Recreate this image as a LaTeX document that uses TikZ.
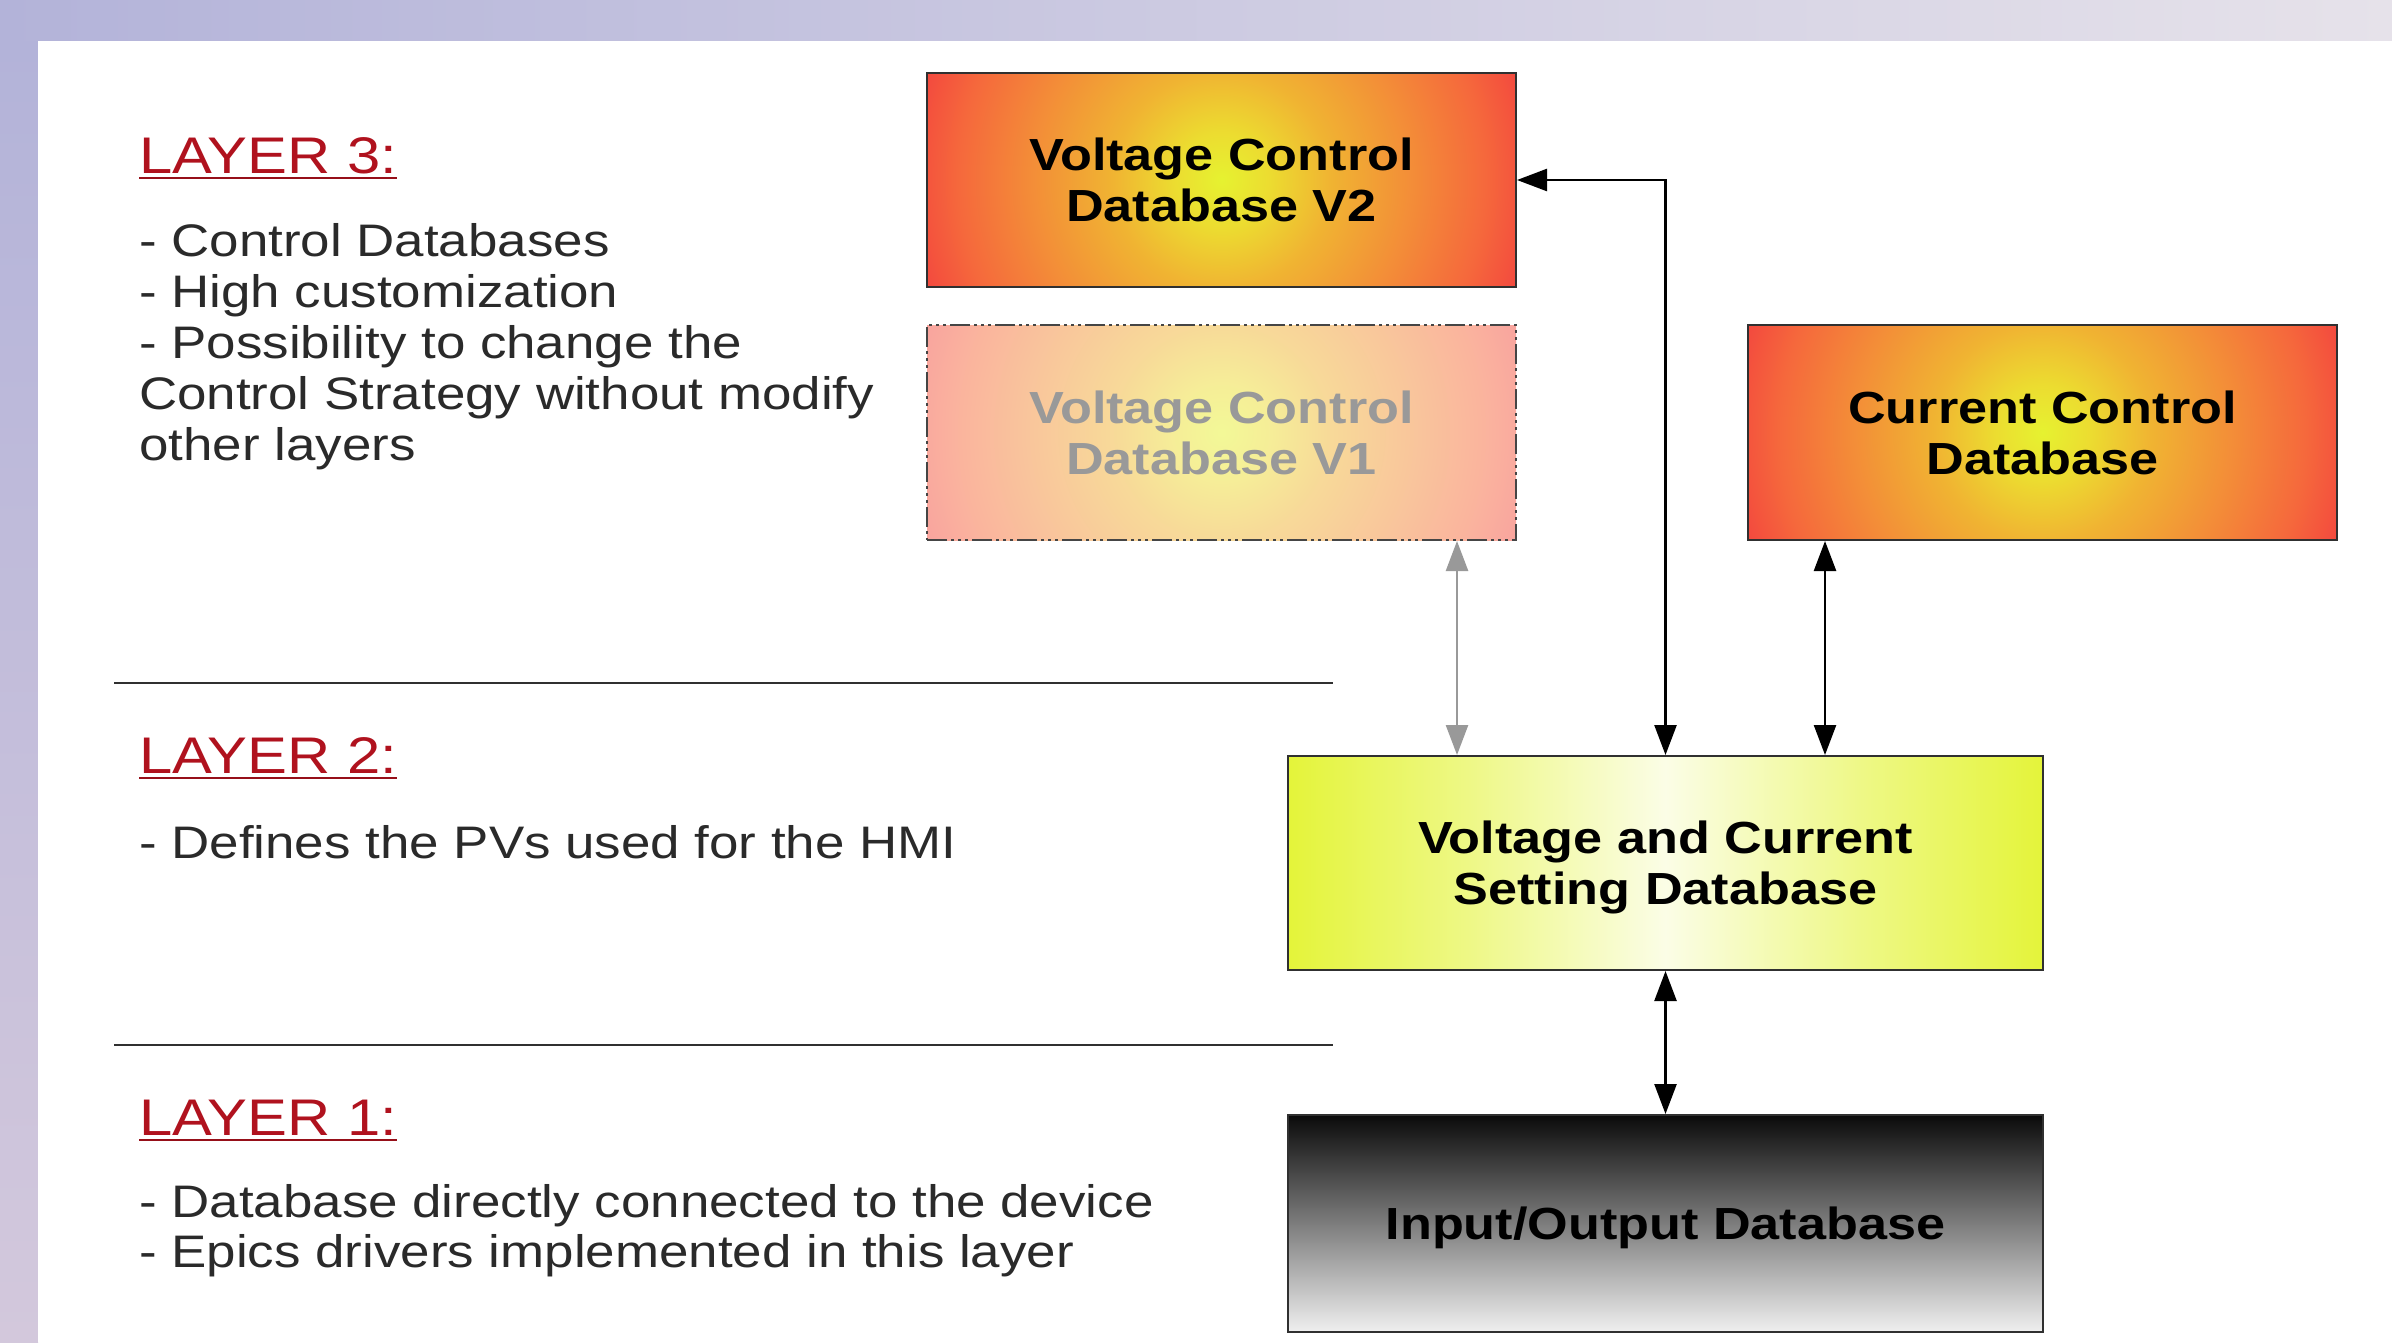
\documentclass[tikz,border=0pt]{standalone}
\usepackage{fontspec}
\setmainfont{Liberation Sans}[FakeStretch=1.16]
\usetikzlibrary{arrows.meta}
\definecolor{layred}{HTML}{B0121E}
\definecolor{bodytxt}{HTML}{2A2A2A}
\definecolor{boxline}{HTML}{303030}
\definecolor{bgA}{HTML}{B3B3D9}
\definecolor{bgB}{HTML}{E6E2EA}
\definecolor{bgC}{HTML}{D3C8DC}
\definecolor{cc0}{HTML}{E6F230}
\definecolor{cc1}{HTML}{ECDC30}
\definecolor{cc2}{HTML}{F0B432}
\definecolor{cc3}{HTML}{F38C38}
\definecolor{cc4}{HTML}{F5683C}
\definecolor{cc5}{HTML}{F34A3E}
\colorlet{fc0}{cc0!50!white}
\colorlet{fc1}{cc1!50!white}
\colorlet{fc2}{cc2!50!white}
\colorlet{fc3}{cc3!50!white}
\colorlet{fc4}{cc4!50!white}
\colorlet{fc5}{cc5!50!white}
\definecolor{sy0}{HTML}{E4F43A}
\definecolor{sy1}{HTML}{EEF886}
\definecolor{sy2}{HTML}{FBFDE6}
\pgfdeclareradialshading{ctrlshade}{\pgfpoint{0bp}{0bp}}{color(0bp)=(cc0); color(3bp)=(cc1); color(6.75bp)=(cc2); color(12bp)=(cc3); color(16.5bp)=(cc4); color(19.5bp)=(cc5); color(50bp)=(cc5)}
\pgfdeclareradialshading{fadeshade}{\pgfpoint{0bp}{0bp}}{color(0bp)=(fc0); color(3bp)=(fc1); color(6.75bp)=(fc2); color(12bp)=(fc3); color(16.5bp)=(fc4); color(19.5bp)=(fc5); color(50bp)=(fc5)}
\pgfdeclarehorizontalshading{setshade}{100bp}{color(0bp)=(sy0); color(25bp)=(sy0); color(37bp)=(sy1); color(50bp)=(sy2); color(63bp)=(sy1); color(75bp)=(sy0); color(100bp)=(sy0)}
\tikzset{
  box/.style={draw=boxline, line width=2pt, inner sep=0pt, minimum width=589pt, minimum height=214pt, align=center, text depth=0pt, font=\bfseries\fontsize{45}{51}\selectfont},
  ctrlbox/.style={box, path picture={\shade[shading=ctrlshade] (path picture bounding box.center) circle[radius=400pt];}},
  fadebox/.style={box, draw=boxline!90, dash pattern=on 20pt off 4pt on 3pt off 4pt on 3pt off 4pt on 3pt off 4pt, text=black!40, path picture={\shade[shading=fadeshade] (path picture bounding box.center) circle[radius=400pt];}},
  setbox/.style={box, minimum width=755pt, shading=setshade},
  iobox/.style={box, minimum width=755pt, minimum height=217pt, top color=black!96, bottom color=black!6},
  layer/.style={anchor=base west, inner sep=0pt, text=layred, font=\fontsize{51.5}{58}\selectfont},
  body/.style={anchor=base west, inner sep=0pt, text=bodytxt, font=\fontsize{45.6}{51}\selectfont},
  uline/.style={draw=layred!85!black, line width=2.6pt},
  sep/.style={draw=boxline, line width=2pt},
  conn/.style={{Triangle[length=30pt,width=22pt]}-{Triangle[length=30pt,width=22pt]}, line width=2.5pt, draw=black},
  gconn/.style={conn, draw=black!40, fill=black!40}
}
\begin{document}
\begin{tikzpicture}[x=1pt,y=-1pt]
\useasboundingbox (0,0) rectangle (2392,1342);
% background
\shade[left color=bgA, right color=bgB] (0,0) rectangle (2392,41);
\shade[top color=bgA, bottom color=bgC] (0,41) rectangle (38,1342);
\fill[white] (38,41) rectangle (2392,1342);

% boxes
\node[ctrlbox] (v2) at (1221.5,180) {Voltage Control\\Database V2};
\node[fadebox, minimum height=215pt] (v1) at (1221.5,432.5) {Voltage Control\\Database V1};
\node[ctrlbox, minimum height=215pt] (cur) at (2042.5,432.5) {Current Control\\Database};
\node[setbox] (set) at (1665.5,863) {Voltage and Current\\Setting Database};
\node[iobox] (io) at (1665.5,1223.5) {Input/Output Database};

% connectors
\coordinate (gx) at (1457,0);
\coordinate (rx) at (1825,0);
\draw[gconn] (v1.south -| gx) -- (set.north -| gx);
\draw[conn] (v2.east) -| (set.north);
\draw[conn] (cur.south -| rx) -- (set.north -| rx);
\draw[conn] (set.south) -- (io.north);

% separators
\draw[sep] (114,683.4) -- (1333,683.4);
\draw[sep] (114,1045) -- (1333,1045);

% layer 3
\node[layer] (l3) at (139,173) {LAYER 3:};
\draw[uline] ([yshift=-5pt]l3.base west) -- ([yshift=-5pt]l3.base east);
\node[body] (t3a) at (139,256) {- Control Databases};
\node[body] (t3b) at (139,307) {- High customization};
\node[body] (t3c) at (139,358) {- Possibility to change the};
\node[body] (t3d) at (139,409) {Control Strategy without modify};
\node[body] (t3e) at (139,460) {other layers};

% layer 2
\node[layer] (l2) at (139,773) {LAYER 2:};
\draw[uline] ([yshift=-5pt]l2.base west) -- ([yshift=-5pt]l2.base east);
\node[body] (t2a) at (139,858.5) {- Defines the PVs used for the HMI};

% layer 1
\node[layer] (l1) at (139,1135) {LAYER 1:};
\draw[uline] ([yshift=-5pt]l1.base west) -- ([yshift=-5pt]l1.base east);
\node[body] (t1a) at (139,1217) {- Database directly connected to the device};
\node[body] (t1b) at (139,1267) {- Epics drivers implemented in this layer};
\end{tikzpicture}
\end{document}
